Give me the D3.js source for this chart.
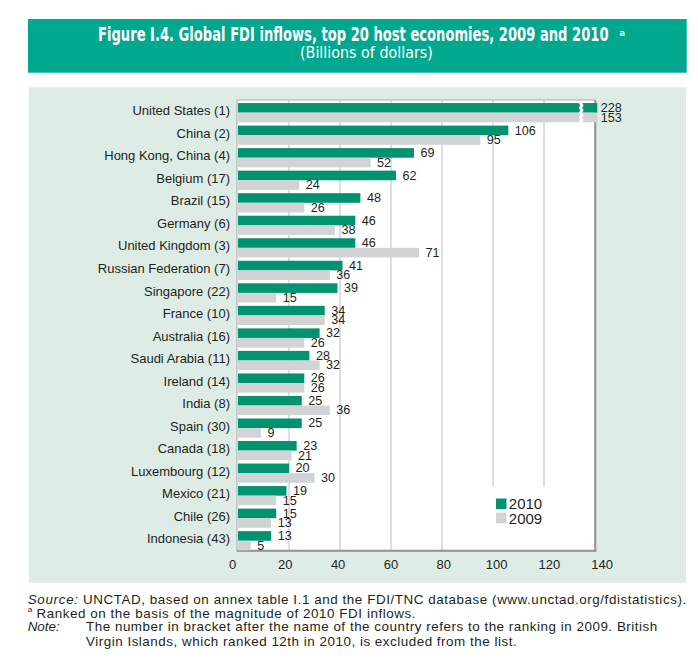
<!DOCTYPE html>
<html><head><meta charset="utf-8">
<script src="https://cdn.jsdelivr.net/npm/d3@7/dist/d3.min.js"></script>
<style>
html,body{margin:0;padding:0;background:#fff;}
svg{display:block;}
</style></head>
<body>
<svg id="chart" width="698" height="664"></svg>
<script>
const categories = ["United States (1)", "China (2)", "Hong Kong, China (4)", "Belgium (17)", "Brazil (15)", "Germany (6)", "United Kingdom (3)", "Russian Federation (7)", "Singapore (22)", "France (10)", "Australia (16)", "Saudi Arabia (11)", "Ireland (14)", "India (8)", "Spain (30)", "Canada (18)", "Luxembourg (12)", "Mexico (21)", "Chile (26)", "Indonesia (43)"];
const values2010 = [228, 106, 69, 62, 48, 46, 46, 41, 39, 34, 32, 28, 26, 25, 25, 23, 20, 19, 15, 13];
const values2009 = [153, 95, 52, 24, 26, 38, 71, 36, 15, 34, 26, 32, 26, 36, 9, 21, 30, 15, 13, 5];
const seriesNames = ["2010", "2009"];
const tickValues = [0, 20, 40, 60, 80, 100, 120, 140];

const svg = d3.select("#chart");
const FONT = "'Liberation Sans', Arial, Helvetica, sans-serif";
const COND = "'DejaVu Sans Condensed','DejaVu Sans',sans-serif";
const TXT = "#231f20";
const GREEN = "#00936f", GREY = "#d1d3d4";

// Header
svg.append("rect").attr("x", 28).attr("y", 19).attr("width", 658.7).attr("height", 53.7).attr("fill", "#00a88f");

// Title: size chosen so natural width fits, then stretched vertically to the reference's tall condensed look
function fitText(str, x0, yBase, targetW, targetSize, weight) {
  const t = svg.append("text").attr("x", 0).attr("y", 0)
    .attr("font-family", COND).attr("font-weight", weight)
    .attr("font-size", targetSize).attr("fill", "#fff").text(str);
  const w = t.node().getComputedTextLength();
  const size = targetSize * targetW / w;
  t.attr("font-size", size)
   .attr("transform", `translate(${x0},${yBase}) scale(1,${targetSize / size})`);
  return t;
}
fitText("Figure I.4.  Global FDI inflows, top 20 host economies, 2009 and 2010", 98, 40.6, 511, 19.5, "bold");
svg.append("text").attr("x", 619.5).attr("y", 35.5)
  .attr("font-family", COND).attr("font-weight", "bold")
  .attr("font-size", 9).attr("fill", "#fff").text("a");
fitText("(Billions of dollars)", 300, 57.6, 133, 15, "normal");

// Panel
svg.append("rect").attr("x", 29).attr("y", 87.3).attr("width", 657).attr("height", 495.4).attr("fill", "#ddede6");

// Scales
const x = d3.scaleLinear().domain([0, 140]).range([238, 595]);
const xLabels = d3.scaleLinear().domain([0, 140]).range([232, 601.7]);
const y = d3.scaleBand().domain(categories).range([101.4, 552]);
const ySub = d3.scaleBand().domain(seriesNames).range([-9.6, 9.6]);

// Plot box
svg.append("rect").attr("x", 237).attr("y", 100).attr("width", 358).attr("height", 451)
  .attr("fill", "#fff").attr("stroke", "#a7a9ac").attr("stroke-width", 1);

// Gridlines
svg.append("g").selectAll("line").data(tickValues.filter(v => v > 0 && v < 140)).join("line")
  .attr("x1", d => x(d)).attr("x2", d => x(d)).attr("y1", 100).attr("y2", 551)
  .attr("stroke", "#bcbec0").attr("stroke-width", 1);

// Legend background (covers gridlines)
svg.append("rect").attr("x", 490).attr("y", 487).attr("width", 104).attr("height", 63).attr("fill", "#fff");

// Shadow borders
svg.append("line").attr("x1", 595.3).attr("x2", 595.3).attr("y1", 100).attr("y2", 552).attr("stroke", "#939598").attr("stroke-width", 2);
svg.append("line").attr("x1", 237).attr("x2", 596.3).attr("y1", 550.8).attr("y2", 550.8).attr("stroke", "#939598").attr("stroke-width", 2);

// Bars
const data = categories.map((c, i) => ({ cat: c, vals: [ { s: "2010", v: values2010[i] }, { s: "2009", v: values2009[i] } ] }));
const colorOf = d3.scaleOrdinal().domain(seriesNames).range([GREEN, GREY]);
const xMax = 140.9;
const rows = svg.append("g").selectAll("g").data(data).join("g")
  .attr("transform", d => `translate(0,${y(d.cat) + y.bandwidth() / 2})`);
rows.selectAll("rect").data(d => d.vals).join("rect")
  .attr("x", x(0)).attr("y", d => ySub(d.s))
  .attr("width", d => x(Math.min(d.v, xMax)) - x(0))
  .attr("height", ySub.bandwidth())
  .attr("fill", d => colorOf(d.s));

// Break symbol on truncated bars
const breakAt = 133.6;
rows.filter(d => d.vals.some(v => v.v > xMax)).append("path")
  .attr("d", () => {
    const x0 = x(breakAt), top = ySub("2010"), bot = ySub("2009") + ySub.bandwidth();
    const n = 8, h = (bot - top) / n;
    let left = [], right = [];
    for (let k = 0; k <= n; k++) {
      const dx = (k % 2 === 0) ? 0 : 1.6;
      left.push([x0 + dx, top + k * h]);
      right.push([x0 + 3.4 + dx, top + k * h]);
    }
    return "M" + left.map(p => p.join(",")).join("L") + "L" + right.reverse().map(p => p.join(",")).join("L") + "Z";
  })
  .attr("fill", "#fff");

// Value labels
rows.selectAll("text").data(d => d.vals).join("text")
  .attr("x", d => x(Math.min(d.v, xMax)) + (d.v > xMax ? 3.5 : 6.5))
  .attr("y", d => ySub(d.s) + ySub.bandwidth() / 2 + 4.1)
  .attr("font-family", FONT).attr("font-size", 12.6).attr("fill", TXT)
  .text(d => d.v);

// Category axis
const yAxis = svg.append("g").attr("transform", `translate(237,0)`)
  .call(d3.axisLeft(y).tickSize(0).tickPadding(7));
yAxis.select(".domain").remove();
yAxis.selectAll("text").attr("font-family", FONT).attr("font-size", 13).attr("fill", TXT).attr("dy", "0.2em");

// Value axis labels
const xAxis = svg.append("g").attr("transform", `translate(0,551)`)
  .call(d3.axisBottom(xLabels).tickValues(tickValues).tickSize(0).tickPadding(9).tickFormat(d3.format("d")));
xAxis.select(".domain").remove();
xAxis.selectAll("text").attr("font-family", FONT).attr("font-size", 13).attr("fill", TXT);

// Legend
const legend = svg.append("g");
seriesNames.forEach((s, i) => {
  legend.append("rect").attr("x", 496).attr("y", 498.5 + i * 14.2).attr("width", 10.5).attr("height", 10.5).attr("fill", colorOf(s));
  legend.append("text").attr("x", 508.8).attr("y", 509.2 + i * 14.3)
    .attr("font-family", FONT).attr("font-size", 15).attr("fill", TXT).text(s);
});

// Footer
const foot = svg.append("g").attr("font-family", FONT).attr("font-size", 13.4).attr("fill", TXT);
const l1 = foot.append("text").attr("x", 27.7).attr("y", 604.3);
l1.append("tspan").attr("font-style", "italic").text("Source:");
l1.append("tspan").text(" UNCTAD, based on annex table I.1 and the FDI/TNC database (www.unctad.org/fdistatistics).");
foot.append("text").attr("x", 27.7).attr("y", 612).attr("font-size", 8).text("a");
const l2 = foot.append("text").attr("x", 36.5).attr("y", 617.6).text("Ranked on the basis of the magnitude of 2010 FDI inflows.");
foot.append("text").attr("x", 27.7).attr("y", 631.2).attr("font-style", "italic").text("Note:");
const l3 = foot.append("text").attr("x", 86).attr("y", 631.2).text("The number in bracket after the name of the country refers to the ranking in 2009. British");
const l4 = foot.append("text").attr("x", 86).attr("y", 645.5).text("Virgin Islands, which ranked 12th in 2010, is excluded from the list.");
// stretch footer lines to the reference's wider setting
const w1 = l1.node().getComputedTextLength();
const ratio = (685.5 - 27.7) / w1;
[l2, l3, l4].forEach(t => {
  const w = t.node().getComputedTextLength();
  t.attr("textLength", w * ratio).attr("lengthAdjust", "spacing");
});
l1.selectAll("tspan").each(function() {
  const w = this.getComputedTextLength();
  d3.select(this).attr("textLength", w * ratio).attr("lengthAdjust", "spacing");
});
</script>
</body></html>
